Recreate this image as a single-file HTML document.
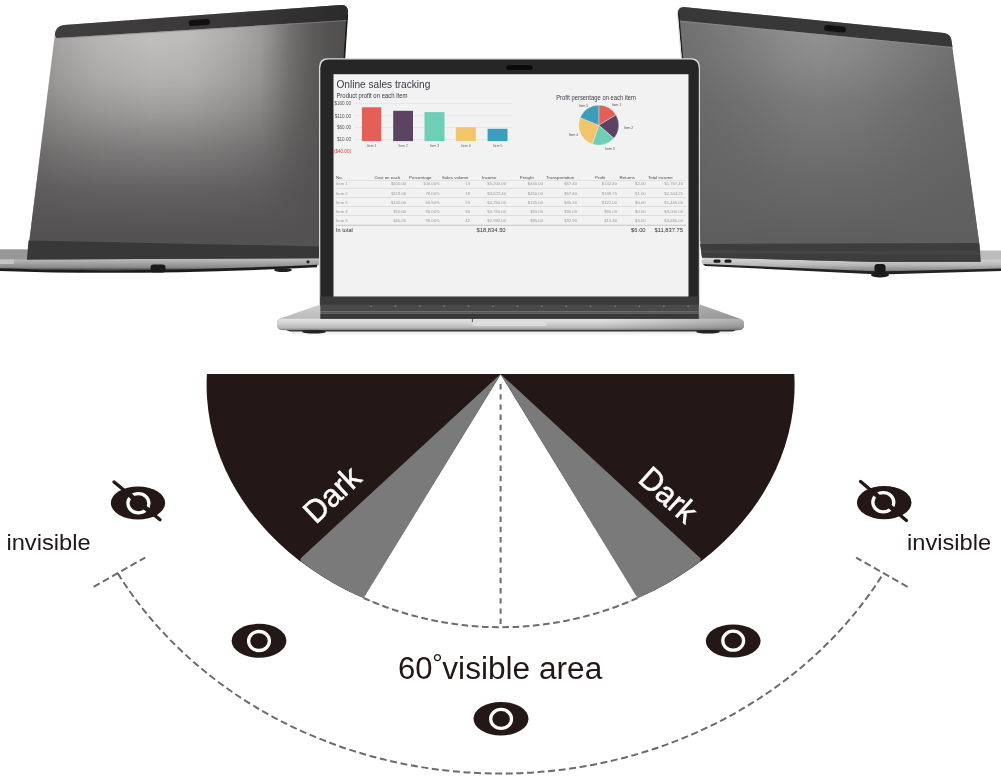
<!DOCTYPE html>
<html><head><meta charset="utf-8">
<style>
html,body{margin:0;padding:0;background:#fff;width:1001px;height:780px;overflow:hidden}
svg{display:block;will-change:transform}
text{font-family:"Liberation Sans",sans-serif}
</style></head>
<body>
<svg width="1001" height="780" viewBox="0 0 1001 780">
<defs>
  <linearGradient id="hL" gradientUnits="userSpaceOnUse" x1="27" y1="0" x2="348" y2="0"><stop offset="0.000" stop-color="#979494"/><stop offset="0.056" stop-color="#9d9a9a"/><stop offset="0.103" stop-color="#a7a4a4"/><stop offset="0.227" stop-color="#b7b4b4"/><stop offset="0.383" stop-color="#c0bdbd"/><stop offset="0.508" stop-color="#bdbaba"/><stop offset="0.632" stop-color="#afacac"/><stop offset="0.726" stop-color="#9e9b9b"/><stop offset="0.773" stop-color="#898686"/><stop offset="0.819" stop-color="#737070"/><stop offset="0.882" stop-color="#5f5c5c"/><stop offset="0.944" stop-color="#555252"/><stop offset="1.000" stop-color="#4f4c4c"/></linearGradient>
  <linearGradient id="vL" gradientUnits="userSpaceOnUse" x1="0" y1="40" x2="0" y2="235"><stop offset="0.000" stop-color="#535151" stop-opacity="0"/><stop offset="0.205" stop-color="#535151" stop-opacity="0.12"/><stop offset="0.359" stop-color="#535151" stop-opacity="0.3"/><stop offset="0.564" stop-color="#535151" stop-opacity="0.6"/><stop offset="0.769" stop-color="#535151" stop-opacity="0.85"/><stop offset="1.000" stop-color="#535151" stop-opacity="1"/></linearGradient>
  <linearGradient id="hR" gradientUnits="userSpaceOnUse" x1="680" y1="0" x2="980" y2="0"><stop offset="0.000" stop-color="#707070"/><stop offset="0.067" stop-color="#747474"/><stop offset="0.167" stop-color="#7c7c7c"/><stop offset="0.267" stop-color="#858585"/><stop offset="0.367" stop-color="#8f8f8f"/><stop offset="0.467" stop-color="#939393"/><stop offset="0.600" stop-color="#8d8d8d"/><stop offset="0.733" stop-color="#818181"/><stop offset="0.867" stop-color="#757575"/><stop offset="1.000" stop-color="#6d6d6d"/></linearGradient>
  <linearGradient id="vR" gradientUnits="userSpaceOnUse" x1="0" y1="25" x2="0" y2="240"><stop offset="0.000" stop-color="#5e5e5e" stop-opacity="0"/><stop offset="0.163" stop-color="#5e5e5e" stop-opacity="0.15"/><stop offset="0.349" stop-color="#5e5e5e" stop-opacity="0.45"/><stop offset="0.721" stop-color="#5e5e5e" stop-opacity="0.78"/><stop offset="1.000" stop-color="#5e5e5e" stop-opacity="1"/></linearGradient>
  <linearGradient id="strip" x1="0" y1="0" x2="0" y2="1">
    <stop offset="0" stop-color="#d9d9d9"/>
    <stop offset="0.5" stop-color="#b8b8b8"/>
    <stop offset="0.85" stop-color="#8a8a8a"/>
    <stop offset="1" stop-color="#333"/>
  </linearGradient>
  <linearGradient id="stripC" x1="0" y1="0" x2="0" y2="1">
    <stop offset="0" stop-color="#e4e4e4"/>
    <stop offset="0.4" stop-color="#d2d2d2"/>
    <stop offset="0.8" stop-color="#b4b4b4"/>
    <stop offset="1" stop-color="#7a7a7a"/>
  </linearGradient>
</defs>

<!-- ================= LEFT LAPTOP ================= -->
<g id="left">
  <!-- base strip -->
  <path d="M0 249 L30 249 L30 259.2 L318 257.3 Q321.5 261.5 318 265.8 Q140 273.5 0 268.8 Z" fill="url(#strip)"/>
  <path d="M0 249.5 L30 249.5 L30 259.5 L0 259.5 Z" fill="#979797"/>
  <path d="M0 259.5 L14 259.5 L14 264 L0 264 Z" fill="#c4c4c4"/>
  <path d="M0 269.6 Q140 274.6 317 266" fill="none" stroke="#1c1c1c" stroke-width="2.6"/>
  <rect x="150.5" y="264.5" width="15" height="8" rx="3" fill="#1a1a1a"/>
  <ellipse cx="283" cy="270" rx="9" ry="2" fill="#222"/>
  <circle cx="308" cy="261.8" r="1.6" fill="#222"/>
  <!-- lid -->
  <path d="M64 24.9 L341 5 Q348 4.5 348 12 L344.5 60 L344.5 258 L27 259.5 L54.8 35 Q55.5 25.8 64 24.9 Z" fill="url(#hL)"/>
  <path d="M64 24.9 L341 5 Q348 4.5 348 12 L344.5 60 L344.5 258 L27 259.5 L54.8 35 Q55.5 25.8 64 24.9 Z" fill="url(#vL)"/>
  <!-- top bezel band -->
  <linearGradient id="bandL" gradientUnits="userSpaceOnUse" x1="56" y1="0" x2="348" y2="0"><stop offset="0" stop-color="#403e3e"/><stop offset="0.6" stop-color="#3a3838"/><stop offset="1" stop-color="#2c2b2b"/></linearGradient>
  <path d="M64 24.9 L341 5 Q348 4.5 348 12 L347.4 20 L56.5 38 L54.8 35 Q55.5 25.8 64 24.9 Z" fill="url(#bandL)"/>
  <path d="M347.2 15 L344.3 60" stroke="#1a1a1a" stroke-width="1.6" fill="none"/>
  <path d="M56.5 38 L347.4 20 L347.3 21 L56.4 39 Z" fill="#8a8888" opacity="0.6"/>
  <rect x="188.5" y="19.5" width="21.5" height="6" rx="3" fill="#111" transform="rotate(-3.9 199 22.5)"/>
  <!-- bottom bezel -->
  <path d="M28.5 240.5 L346 247 L346 258 L27 259.5 Z" fill="#393838"/>
</g>

<!-- ================= RIGHT LAPTOP ================= -->
<g id="right">
  <!-- keyboard deck at right -->
  <path d="M975 250.5 L1001 250.5 L1001 260 L975 260 Z" fill="#bcbcbc"/>
  <!-- base strip -->
  <path d="M703 257.5 L880 261.5 L1001 259.5 L1001 269.5 L880 272.5 L703 264.5 Q700 261 703 257.5 Z" fill="url(#strip)"/>
  <path d="M703 264 L880 271.5 L1001 268.5 L1001 271 L880 274.5 L705 266 Z" fill="#222"/>
  <rect x="874.5" y="264" width="11" height="9" rx="3" fill="#1a1a1a"/>
  <ellipse cx="880" cy="275" rx="9" ry="2.5" fill="#1c1c1c"/>
  <rect x="713.5" y="259.5" width="7" height="3.2" rx="1.5" fill="#1d1d1d"/>
  <rect x="724.5" y="259.5" width="7" height="3.2" rx="1.5" fill="#1d1d1d"/>
  <!-- lid -->
  <path d="M683 7 L944 33 Q951 34 951.5 41 L980 249 L980.5 261.8 L880 262 L702 257.5 L677.8 13 Q678 7 683 7 Z" fill="url(#hR)"/>
  <path d="M683 7 L944 33 Q951 34 951.5 41 L980 249 L980.5 261.8 L880 262 L702 257.5 L677.8 13 Q678 7 683 7 Z" fill="url(#vR)"/>
  <path d="M683 7 L944 33 Q951 34 951.5 41 L952.5 47 L679.2 20.5 L677.8 13 Q678 7 683 7 Z" fill="#383838"/>
  <path d="M679.2 20.5 L952.5 47 L952.6 48 L679.3 21.5 Z" fill="#9a9a9a" opacity="0.5"/>
  <path d="M678.6 13 L682.6 60" stroke="#1e1e1e" stroke-width="1.3" fill="none"/>
  <path d="M677.3 13 Q677.5 7.3 682.5 6.6 M677.3 13 L681.3 60" stroke="#e0e0e0" stroke-width="0.9" fill="none"/>
  <rect x="824" y="25.8" width="22" height="6" rx="3" fill="#111" transform="rotate(5.5 835 28.8)"/>
  <path d="M700 244 L979 243 L980.5 261.8 L880 262 L702 257.5 Z" fill="#3d3d3d"/>
  <path d="M701 250 L979.5 251 L980 255 L701.5 253.5 Z" fill="#474747" opacity="0.7"/>
  
</g>

<!-- ================= CENTER LAPTOP ================= -->
<g id="center">
  <!-- base -->
  <linearGradient id="shadowC" x1="0" y1="0" x2="0" y2="1"><stop offset="0" stop-color="#000" stop-opacity="0.12"/><stop offset="1" stop-color="#000" stop-opacity="0"/></linearGradient>
  <rect x="292" y="330" width="438" height="6" fill="url(#shadowC)"/>
  <linearGradient id="deckC" x1="0" y1="0" x2="0" y2="1"><stop offset="0" stop-color="#d0d0d0"/><stop offset="1" stop-color="#a9a9a9"/></linearGradient>
  <path d="M283 317.5 L320 304.5 L700 304.5 L738 318 Q744 319.5 744 323 L744 326 Q744 330 738 330 L283 330 Q277 330 277 325 L277 322 Q277 318.5 283 317.5 Z" fill="url(#deckC)"/>
  <path d="M280 318.8 L740 318.8 Q744 320 744 324 Q744 329.8 738 330.3 L283 330.3 Q277 329.8 277 324 Q277 320 280 318.8 Z" fill="url(#stripC)"/>
  <path d="M286 330 L736 330 L733 331.6 L290 331.6 Z" fill="#3a3a3a"/>
  <linearGradient id="baseShade" gradientUnits="userSpaceOnUse" x1="600" y1="0" x2="744" y2="0"><stop offset="0" stop-color="#000" stop-opacity="0"/><stop offset="1" stop-color="#000" stop-opacity="0.22"/></linearGradient>
  <path d="M283 317.5 L320 304.5 L700 304.5 L738 318 Q744 319.5 744 323 L744 326 Q744 330 738 330.3 L283 330.3 Q277 330 277 325 L277 322 Q277 318.5 283 317.5 Z" fill="url(#baseShade)"/>
  <ellipse cx="314" cy="331.8" rx="12" ry="1.8" fill="#222"/>
  <ellipse cx="708" cy="331.8" rx="12" ry="1.8" fill="#222"/>
  <rect x="472.4" y="320.5" width="74.3" height="5.5" rx="2" fill="#dcdcdc"/>
  <path d="M472.4 313 L472.4 322" stroke="#3a3a3a" stroke-width="0.8"/>
  <!-- lid -->
  <path d="M327.5 58.3 L691 58.3 Q700 58.3 700 67.3 L700 306 L319 306 L319 67.3 Q319 58.3 327.5 58.3 Z" fill="#d8d8d8"/>
  <path d="M328.5 59.5 L690 59.5 Q698.8 59.5 698.8 68.3 L698.8 306 L320.3 306 L320.3 68.3 Q320.3 59.5 328.5 59.5 Z" fill="#262626"/>
  <rect x="505.6" y="64.6" width="27.8" height="6" rx="3" fill="#0b0b0b" stroke="#3a3a3a" stroke-width="0.6"/>
  <!-- keyboard strip -->
  <rect x="320.3" y="296.5" width="378.5" height="8" fill="#3a3a3a"/>
  <rect x="320.3" y="304.4" width="378.5" height="7.1" fill="#4a4a4a"/>
  <rect x="320.3" y="311.5" width="378.5" height="2" fill="#575757"/>
  <rect x="320.3" y="313.5" width="378.5" height="5.4" fill="#393939"/>
  <circle cx="371.0" cy="306.3" r="0.9" fill="#7a7a7a"/><circle cx="395.4" cy="306.3" r="0.9" fill="#7a7a7a"/><circle cx="419.8" cy="306.3" r="0.9" fill="#7a7a7a"/><circle cx="444.2" cy="306.3" r="0.9" fill="#7a7a7a"/><circle cx="468.6" cy="306.3" r="0.9" fill="#7a7a7a"/><circle cx="493.0" cy="306.3" r="0.9" fill="#7a7a7a"/><circle cx="517.4" cy="306.3" r="0.9" fill="#7a7a7a"/><circle cx="541.8" cy="306.3" r="0.9" fill="#7a7a7a"/><circle cx="566.2" cy="306.3" r="0.9" fill="#7a7a7a"/><circle cx="590.6" cy="306.3" r="0.9" fill="#7a7a7a"/><circle cx="615.0" cy="306.3" r="0.9" fill="#7a7a7a"/><circle cx="639.4" cy="306.3" r="0.9" fill="#7a7a7a"/><circle cx="663.8" cy="306.3" r="0.9" fill="#7a7a7a"/><circle cx="688.2" cy="306.3" r="0.9" fill="#7a7a7a"/>
  <!-- screen -->
  <rect x="333.5" y="74.2" width="355" height="222.3" fill="#f2f2f2"/>
  <g id="sheet" font-family="Liberation Sans, sans-serif">
  <text x="336.4" y="88.2" font-size="11" fill="#3d3747" textLength="94" lengthAdjust="spacingAndGlyphs">Online sales tracking</text>
  <text x="336.4" y="97.8" font-size="6.6" fill="#3d3747" textLength="71" lengthAdjust="spacingAndGlyphs">Product profit on each item</text>
  <rect x="354" y="103.2" width="158" height="0.6" fill="#e2e0e0"/>
  <rect x="354" y="115.5" width="158" height="0.6" fill="#e2e0e0"/>
  <rect x="354" y="127.4" width="158" height="0.6" fill="#e2e0e0"/>
  <rect x="354" y="139.4" width="158" height="0.6" fill="#e2e0e0"/>
  <text x="351" y="105.2" font-size="4.6" fill="#555" text-anchor="end">$160.00</text>
  <text x="351" y="117.6" font-size="4.6" fill="#555" text-anchor="end">$110.00</text>
  <text x="351" y="129.4" font-size="4.6" fill="#555" text-anchor="end">$60.00</text>
  <text x="351" y="141.4" font-size="4.6" fill="#555" text-anchor="end">$10.00</text>
  <text x="351" y="153.3" font-size="4.6" fill="#e03a3a" text-anchor="end">($40.00)</text>
  <rect x="361.9" y="107.3" width="19.4" height="33.8" fill="#e35f57"/>
  <text x="371.6" y="147.2" font-size="3.4" fill="#666" text-anchor="middle">Item 1</text>
  <rect x="393.2" y="110.8" width="19.8" height="30.3" fill="#5a4462"/>
  <text x="403.1" y="147.2" font-size="3.4" fill="#666" text-anchor="middle">Item 2</text>
  <rect x="424.5" y="112.1" width="20.0" height="29.0" fill="#6fcfb6"/>
  <text x="434.5" y="147.2" font-size="3.4" fill="#666" text-anchor="middle">Item 3</text>
  <rect x="455.9" y="127.3" width="19.9" height="13.8" fill="#f2c46c"/>
  <text x="465.9" y="147.2" font-size="3.4" fill="#666" text-anchor="middle">Item 4</text>
  <rect x="487.6" y="128.8" width="19.9" height="12.3" fill="#3b9dba"/>
  <text x="497.6" y="147.2" font-size="3.4" fill="#666" text-anchor="middle">Item 5</text>
  <text x="556.2" y="99.6" font-size="6.5" fill="#3d3747" textLength="79.7" lengthAdjust="spacingAndGlyphs">Profit persentage on each item</text>
  <path d="M598.8 125.2 L598.80 105.20 A20 20 0 0 1 615.94 114.90 Z" fill="#e35f57" stroke="#f4f4f4" stroke-width="0.35"/>
  <path d="M598.8 125.2 L615.94 114.90 A20 20 0 0 1 613.89 138.32 Z" fill="#5a4462" stroke="#f4f4f4" stroke-width="0.35"/>
  <path d="M598.8 125.2 L613.89 138.32 A20 20 0 0 1 592.29 144.11 Z" fill="#6fcfb6" stroke="#f4f4f4" stroke-width="0.35"/>
  <path d="M598.8 125.2 L592.29 144.11 A20 20 0 0 1 580.26 117.71 Z" fill="#f2c46c" stroke="#f4f4f4" stroke-width="0.35"/>
  <path d="M598.8 125.2 L580.26 117.71 A20 20 0 0 1 598.80 105.20 Z" fill="#3b9dba" stroke="#f4f4f4" stroke-width="0.35"/>
  <text x="583.5" y="106.5" font-size="3.4" fill="#555" text-anchor="middle">Item 5</text>
  <text x="616.5" y="106" font-size="3.4" fill="#555" text-anchor="middle">Item 1</text>
  <text x="628.5" y="128.5" font-size="3.4" fill="#555" text-anchor="middle">Item 2</text>
  <text x="573.5" y="136" font-size="3.4" fill="#555" text-anchor="middle">Item 4</text>
  <text x="610" y="149.5" font-size="3.4" fill="#555" text-anchor="middle">Item 3</text>
  <text x="336" y="178.7" font-size="4.4" fill="#4a4a4a">No.</text>
  <text x="374.4" y="178.7" font-size="4.4" fill="#4a4a4a">Cost on each</text>
  <text x="409.1" y="178.7" font-size="4.4" fill="#4a4a4a">Percentage</text>
  <text x="442" y="178.7" font-size="4.4" fill="#4a4a4a">Sales volume</text>
  <text x="482" y="178.7" font-size="4.4" fill="#4a4a4a">Income</text>
  <text x="520" y="178.7" font-size="4.4" fill="#4a4a4a">Freight</text>
  <text x="546" y="178.7" font-size="4.4" fill="#4a4a4a">Transportation</text>
  <text x="595" y="178.7" font-size="4.4" fill="#4a4a4a">Profit</text>
  <text x="619.6" y="178.7" font-size="4.4" fill="#4a4a4a">Returns</text>
  <text x="648" y="178.7" font-size="4.4" fill="#4a4a4a">Total income</text>
  <rect x="336" y="180.2" width="350" height="0.5" fill="#cfcfcf"/>
  <text x="336" y="185.3" font-size="4.2" fill="#a09a9c">Item 1</text>
  <text x="406.1" y="185.3" font-size="4.2" fill="#9a9a9a" text-anchor="end">$100.00</text>
  <text x="439.7" y="185.3" font-size="4.2" fill="#9a9a9a" text-anchor="end">100.00%</text>
  <text x="470" y="185.3" font-size="4.2" fill="#9a9a9a" text-anchor="end">13</text>
  <text x="506" y="185.3" font-size="4.2" fill="#9a9a9a" text-anchor="end">$5,200.00</text>
  <text x="543" y="185.3" font-size="4.2" fill="#9a9a9a" text-anchor="end">$430.00</text>
  <text x="577" y="185.3" font-size="4.2" fill="#9a9a9a" text-anchor="end">$67.40</text>
  <text x="617" y="185.3" font-size="4.2" fill="#9a9a9a" text-anchor="end">$142.40</text>
  <text x="645.6" y="185.3" font-size="4.2" fill="#9a9a9a" text-anchor="end">$2.00</text>
  <text x="683" y="185.3" font-size="4.2" fill="#9a9a9a" text-anchor="end">$1,767.40</text>
  <text x="336" y="194.6" font-size="4.2" fill="#a09a9c">Item 2</text>
  <text x="406.1" y="194.6" font-size="4.2" fill="#9a9a9a" text-anchor="end">$118.00</text>
  <text x="439.7" y="194.6" font-size="4.2" fill="#9a9a9a" text-anchor="end">76.00%</text>
  <text x="470" y="194.6" font-size="4.2" fill="#9a9a9a" text-anchor="end">18</text>
  <text x="506" y="194.6" font-size="4.2" fill="#9a9a9a" text-anchor="end">$3,622.40</text>
  <text x="543" y="194.6" font-size="4.2" fill="#9a9a9a" text-anchor="end">$450.00</text>
  <text x="577" y="194.6" font-size="4.2" fill="#9a9a9a" text-anchor="end">$57.40</text>
  <text x="617" y="194.6" font-size="4.2" fill="#9a9a9a" text-anchor="end">$138.75</text>
  <text x="645.6" y="194.6" font-size="4.2" fill="#9a9a9a" text-anchor="end">$1.00</text>
  <text x="683" y="194.6" font-size="4.2" fill="#9a9a9a" text-anchor="end">$2,344.25</text>
  <text x="336" y="203.8" font-size="4.2" fill="#a09a9c">Item 3</text>
  <text x="406.1" y="203.8" font-size="4.2" fill="#9a9a9a" text-anchor="end">$130.00</text>
  <text x="439.7" y="203.8" font-size="4.2" fill="#9a9a9a" text-anchor="end">65.50%</text>
  <text x="470" y="203.8" font-size="4.2" fill="#9a9a9a" text-anchor="end">25</text>
  <text x="506" y="203.8" font-size="4.2" fill="#9a9a9a" text-anchor="end">$4,250.00</text>
  <text x="543" y="203.8" font-size="4.2" fill="#9a9a9a" text-anchor="end">$135.00</text>
  <text x="577" y="203.8" font-size="4.2" fill="#9a9a9a" text-anchor="end">$45.30</text>
  <text x="617" y="203.8" font-size="4.2" fill="#9a9a9a" text-anchor="end">$122.00</text>
  <text x="645.6" y="203.8" font-size="4.2" fill="#9a9a9a" text-anchor="end">$0.00</text>
  <text x="683" y="203.8" font-size="4.2" fill="#9a9a9a" text-anchor="end">$1,445.00</text>
  <text x="336" y="212.9" font-size="4.2" fill="#a09a9c">Item 4</text>
  <text x="406.1" y="212.9" font-size="4.2" fill="#9a9a9a" text-anchor="end">$50.00</text>
  <text x="439.7" y="212.9" font-size="4.2" fill="#9a9a9a" text-anchor="end">95.00%</text>
  <text x="470" y="212.9" font-size="4.2" fill="#9a9a9a" text-anchor="end">30</text>
  <text x="506" y="212.9" font-size="4.2" fill="#9a9a9a" text-anchor="end">$4,750.00</text>
  <text x="543" y="212.9" font-size="4.2" fill="#9a9a9a" text-anchor="end">$50.00</text>
  <text x="577" y="212.9" font-size="4.2" fill="#9a9a9a" text-anchor="end">$30.00</text>
  <text x="617" y="212.9" font-size="4.2" fill="#9a9a9a" text-anchor="end">$60.00</text>
  <text x="645.6" y="212.9" font-size="4.2" fill="#9a9a9a" text-anchor="end">$0.00</text>
  <text x="683" y="212.9" font-size="4.2" fill="#9a9a9a" text-anchor="end">$3,000.00</text>
  <text x="336" y="222.2" font-size="4.2" fill="#a09a9c">Item 5</text>
  <text x="406.1" y="222.2" font-size="4.2" fill="#9a9a9a" text-anchor="end">$40.00</text>
  <text x="439.7" y="222.2" font-size="4.2" fill="#9a9a9a" text-anchor="end">95.00%</text>
  <text x="470" y="222.2" font-size="4.2" fill="#9a9a9a" text-anchor="end">42</text>
  <text x="506" y="222.2" font-size="4.2" fill="#9a9a9a" text-anchor="end">$2,992.00</text>
  <text x="543" y="222.2" font-size="4.2" fill="#9a9a9a" text-anchor="end">$95.00</text>
  <text x="577" y="222.2" font-size="4.2" fill="#9a9a9a" text-anchor="end">$32.90</text>
  <text x="617" y="222.2" font-size="4.2" fill="#9a9a9a" text-anchor="end">$13.30</text>
  <text x="645.6" y="222.2" font-size="4.2" fill="#9a9a9a" text-anchor="end">$3.00</text>
  <text x="683" y="222.2" font-size="4.2" fill="#9a9a9a" text-anchor="end">$3,486.00</text>
  <rect x="336" y="187.9" width="350" height="0.7" fill="#d6d6d6"/>
  <rect x="336" y="197.0" width="350" height="0.7" fill="#d6d6d6"/>
  <rect x="336" y="206.3" width="350" height="0.7" fill="#d6d6d6"/>
  <rect x="336" y="215.3" width="350" height="0.7" fill="#d6d6d6"/>
  <rect x="336" y="224.8" width="350" height="0.8" fill="#b8b8b8"/>
  <text x="336" y="231.8" font-size="5.6" fill="#333">In total</text>
  <text x="505.6" y="231.8" font-size="5.8" fill="#333" text-anchor="end">$18,834.50</text>
  <text x="645.6" y="231.8" font-size="5.8" fill="#333" text-anchor="end">$6.00</text>
  <text x="683" y="231.8" font-size="5.8" fill="#333" text-anchor="end">$11,837.75</text>
  </g>
</g>

<!-- ================= DIAGRAM ================= -->
<g id="diagram">
  <!-- dark half ellipse -->
  <path d="M206.9 374 L794.3 374 A294 241 0 1 1 206.9 374 Z" fill="#231815"/>
  <!-- gray wedges -->
  <path d="M500.6 374 L300.5 558.5 L301 561.5 A294 241 0 0 0 363.6 598.2 Z" fill="#7a7a7a"/>
  <path d="M500.6 374 L700.7 558.5 L700.2 561.5 A294 241 0 0 1 637.6 598.2 Z" fill="#7a7a7a"/>
  <!-- white wedge -->
  <path d="M500.6 374.5 L363.6 598 A336 336 0 0 0 637.6 598 Z" fill="#fff"/>
  <!-- dashed -->
  <g fill="none" stroke="#6c6c6c" stroke-width="2" stroke-dasharray="7 3.6">
    <path d="M363.6 598 A336 336 0 0 0 637.6 598" stroke-dasharray="6.6 3.6"/>
    <path d="M500.6 384 L500.6 627" stroke-dasharray="5.4 4.8" stroke-width="2"/>
    <path d="M117.8 573.4 A437.5 388 0 0 0 883.4 573.4"/>
    <path d="M93.6 586.8 L145.2 557.6"/>
    <path d="M907.6 586.8 L856 557.6"/>
  </g>
  <!-- Dark labels -->
  <text x="0" y="0" font-size="32" fill="#fff" stroke="#fff" stroke-width="0.45" text-anchor="middle" textLength="65.5" lengthAdjust="spacingAndGlyphs" transform="translate(339.5 502.5) rotate(-43.5)">Dark</text>
  <text x="0" y="0" font-size="32" fill="#fff" stroke="#fff" stroke-width="0.45" text-anchor="middle" textLength="65.5" lengthAdjust="spacingAndGlyphs" transform="translate(661 503) rotate(42)">Dark</text>
  <!-- eyes -->
  <g fill="#231815">
    <ellipse cx="138" cy="503" rx="27.2" ry="16.6"/>
    <ellipse cx="884.2" cy="502.6" rx="27.3" ry="16.6"/>
    <ellipse cx="259" cy="640.8" rx="27.4" ry="17"/>
    <ellipse cx="733.2" cy="641" rx="27.4" ry="16.6"/>
    <ellipse cx="501" cy="718.7" rx="27.5" ry="16.8"/>
  </g>
  <g fill="none" stroke="#fff" stroke-width="3.3">
    <ellipse cx="138.4" cy="503.2" rx="10.5" ry="9.6"/>
    <ellipse cx="883.3" cy="502.3" rx="10.5" ry="9.6"/>
    <ellipse cx="259" cy="641" rx="10.4" ry="9.5"/>
    <ellipse cx="733.2" cy="640.7" rx="10.4" ry="9.5"/>
    <ellipse cx="501.1" cy="718.9" rx="10.4" ry="9.5"/>
  </g>
  <g stroke="#231815" stroke-width="3.3" stroke-linecap="round">
    <path d="M114.1 481.9 L160 519.8"/>
    <path d="M860.6 481.6 L906.4 520.4"/>
  </g>
  <g stroke="#231815" stroke-width="4.6">
    <path d="M128 493.6 L149 510.9"/>
    <path d="M873 492.1 L894 509.9"/>
  </g>
  <!-- text -->
  <g fill="#231815">
    <text x="6.4" y="550.2" font-size="22.4" textLength="84.2" lengthAdjust="spacingAndGlyphs">invisible</text>
    <text x="907" y="550.2" font-size="22.4" textLength="84.2" lengthAdjust="spacingAndGlyphs">invisible</text>
    <text x="398" y="679" font-size="31">60</text>
    <text x="432.3" y="671.5" font-size="26">°</text>
    <text x="442.3" y="679" font-size="31" textLength="160" lengthAdjust="spacingAndGlyphs">visible area</text>
  </g>
</g>
</svg>
</body></html>
